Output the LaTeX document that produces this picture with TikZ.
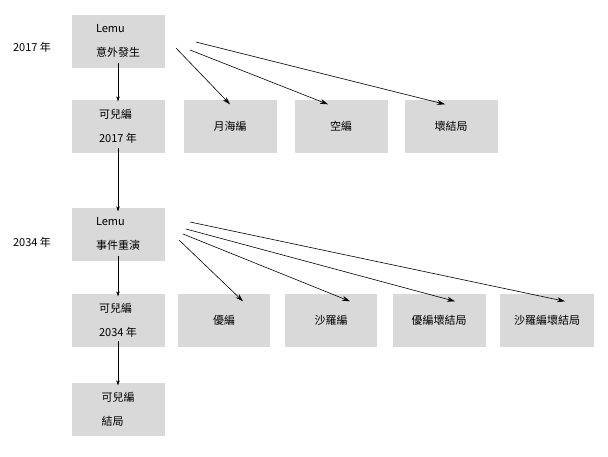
\documentclass[tikz,border=0pt]{standalone}
\usepackage{fontspec}
\setmainfont{Liberation Sans}
\newfontfamily\cjk{Noto Sans CJK TC}
\usetikzlibrary{positioning}
\usetikzlibrary{arrows.meta}

\tikzset{
  stagebox/.style={fill=gray!30, minimum width=93pt, minimum height=53pt,
    align=left, font=\cjk\fontsize{11}{24}\selectfont, inner sep=0pt},
  yearlabel/.style={font=\cjk\fontsize{11}{13}\selectfont},
  flow/.style={-{Stealth[length=8pt,width=5pt]}, line width=0.6pt},
  down/.style={-{Stealth[length=5pt,width=3.5pt]}, line width=0.5pt}
}

\begin{document}
\begin{tikzpicture}[x=1pt, y=-1pt]
            \useasboundingbox (0,0) rectangle (608,456);

            % Year labels
            \node[yearlabel] (y17) at (32,47) {2017 年};
            \node[yearlabel] (y34) at (32,242) {2034 年};

            % Main column
            \node[stagebox] (lemuA) at (118,41) {Lemu\\意外發生};
            \node[stagebox] (kanon17) at (118,126) {可兒編\\2017 年};
            \node[stagebox] (lemuB) at (118,234) {Lemu\\事件重演};
            \node[stagebox] (kanon34) at (118,320) {可兒編\\2034 年};
            \node[stagebox] (kanonEnd) at (118,409) {可兒編\\結局};

            % 2017 routes
            \node[stagebox] (moon) at (230,126) {月海編};
            \node[stagebox] (sky) at (341,126) {空編};
            \node[stagebox] (badA) at (451,126) {壞結局};

            % 2034 routes
            \node[stagebox, minimum width=92pt] (yu) at (224,320) {優編};
            \node[stagebox, minimum width=92pt] (sara) at (331,320) {沙羅編};
            \node[stagebox] (yuBad) at (439,320) {優編壞結局};
            \node[stagebox, minimum width=94pt] (saraBad) at (547,320) {沙羅編壞結局};

            % Branch starts
            \coordinate (a1) at (176,48);
            \coordinate (a2) at (190,50);
            \coordinate (a3) at (196,42);
            \coordinate (b1) at (179,240);
            \coordinate (b2) at (183,234);
            \coordinate (b3) at (186,229);
            \coordinate (b4) at (190,222);

            % Branch arrows
            \draw[flow] (a1) -- ([yshift=-5pt]moon.north);
            \draw[flow] (a2) -- ([xshift=-13pt,yshift=-5pt]sky.north);
            \draw[flow] (a3) -- ([xshift=-6pt,yshift=-5pt]badA.north);
            \draw[flow] (b1) -- ([xshift=19pt,yshift=-8pt]yu.north);
            \draw[flow] (b2) -- ([xshift=19pt,yshift=-8pt]sara.north);
            \draw[flow] (b3) -- ([xshift=16pt,yshift=-8pt]yuBad.north);
            \draw[flow] (b4) -- ([xshift=18pt,yshift=-8pt]saraBad.north);

            % Down the column
            \draw[down] ([yshift=5pt]lemuA.south) -- ([yshift=-2pt]kanon17.north);
            \draw[down] ([yshift=5pt]kanon17.south) -- ([yshift=-4pt]lemuB.north);
            \draw[down] ([yshift=5pt]lemuB.south) -- ([yshift=-3pt]kanon34.north);
            \draw[down] ([yshift=6pt]kanon34.south) -- ([yshift=-3pt]kanonEnd.north);
\end{tikzpicture}
\end{document}
